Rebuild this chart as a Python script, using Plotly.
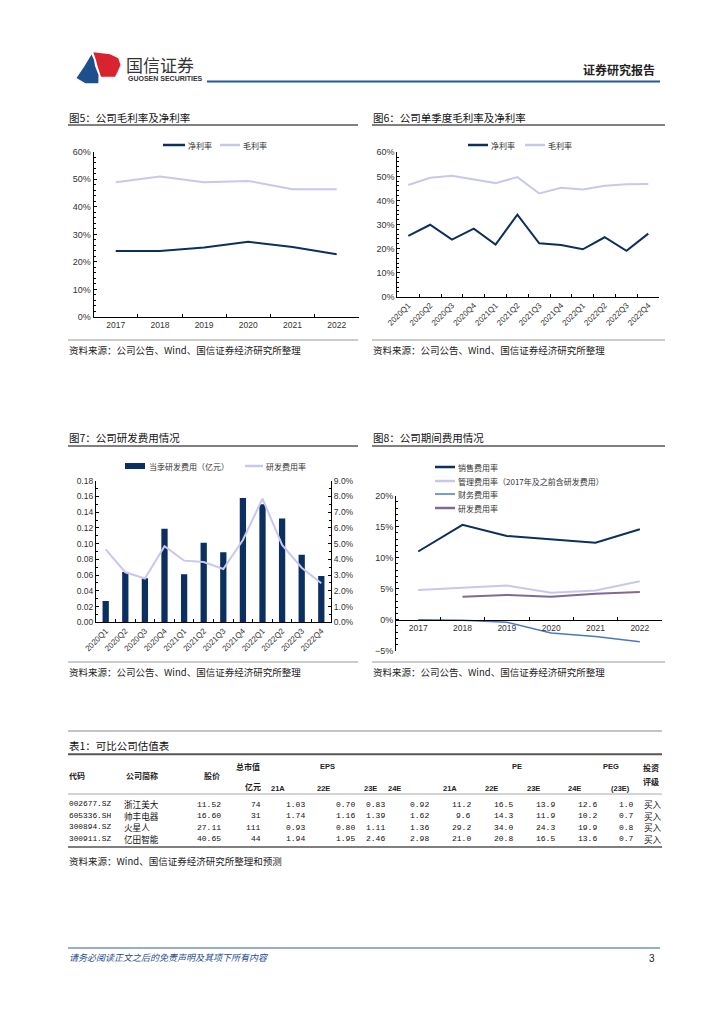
import plotly.graph_objects as go

W, H = 724, 1024
OFF = 8  # page body margin of the html document
def X(px): return (px - OFF) / W
def Y(py): return 1 - (py - OFF) / H

# ---------------- data ----------------
years = ['2017', '2018', '2019', '2020', '2021', '2022']
net_margin_y = [24.0, 24.0, 25.2, 27.3, 25.4, 22.8]
gross_margin_y = [48.9, 51.0, 48.9, 49.4, 46.4, 46.4]

quarters = ['2020Q1', '2020Q2', '2020Q3', '2020Q4', '2021Q1', '2021Q2',
            '2021Q3', '2021Q4', '2022Q1', '2022Q2', '2022Q3', '2022Q4']
net_margin_q = [25.3, 29.9, 23.7, 28.3, 21.7, 34.1, 22.2, 21.5, 19.7, 24.7, 19.1, 26.2]
gross_margin_q = [46.4, 49.4, 50.3, 48.8, 47.2, 49.7, 42.9, 45.3, 44.5, 46.1, 46.7, 46.8]

rd_expense_q = [0.027, 0.064, 0.056, 0.119, 0.061, 0.101, 0.089, 0.158, 0.150, 0.132, 0.086, 0.059]
rd_ratio_q = [4.64, 3.18, 2.78, 4.83, 3.92, 3.83, 3.39, 5.23, 7.86, 4.92, 3.47, 2.48]

selling_rate = [11.0, 15.3, 13.5, 12.9, 12.4, 14.6]
admin_rate = [4.8, 5.2, 5.5, 4.35, 4.7, 6.2]
finance_rate = [0.0, -0.1, -0.4, -2.15, -2.7, -3.55]
rd_rate_y = [None, 3.7, 4.0, 3.7, 4.2, 4.45]

names_c1 = ['净利率', '毛利率']
names_c2 = ['净利率', '毛利率']
names_c3 = ['当季研发费用（亿元）', '研发费用率']
names_c4 = ['销售费用率', '管理费用率（2017年及之前含研发费用）', '财务费用率', '研发费用率']

tbl_codes = ['002677.SZ', '605336.SH', '300894.SZ', '300911.SZ']
tbl_names = ['浙江美大', '帅丰电器', '火星人', '亿田智能']
tbl_price = ['11.52', '16.60', '27.11', '40.65']
tbl_mcap = ['74', '31', '111', '44']
tbl_eps21a = ['1.03', '1.74', '0.93', '1.94']
tbl_eps22e = ['0.70', '1.16', '0.80', '1.95']
tbl_eps23e = ['0.83', '1.39', '1.11', '2.46']
tbl_eps24e = ['0.92', '1.62', '1.36', '2.98']
tbl_pe21a = ['11.2', '9.6', '29.2', '21.0']
tbl_pe22e = ['16.5', '14.3', '34.0', '20.8']
tbl_pe23e = ['13.9', '11.9', '24.3', '16.5']
tbl_pe24e = ['12.6', '10.2', '19.9', '13.6']
tbl_peg = ['1.0', '0.7', '0.8', '0.7']
tbl_rating = ['买入', '买入', '买入', '买入']

# ---------------- style ----------------
NAVY = '#0b2f5e'
LAV = '#c8c8ee'
MBLUE = '#4a78c2'
PURP = '#7d6a96'
CJK = 'Noto Sans CJK SC'
NUM = 'Liberation Sans'
MONO = 'Liberation Mono'

fig = go.Figure()

# chart 1
fig.add_trace(go.Scatter(x=years, y=net_margin_y, mode='lines', name=names_c1[0],
                         line=dict(color=NAVY, width=2), xaxis='x', yaxis='y', showlegend=False))
fig.add_trace(go.Scatter(x=years, y=gross_margin_y, mode='lines', name=names_c1[1],
                         line=dict(color=LAV, width=2), xaxis='x', yaxis='y', showlegend=False))
# chart 2
fig.add_trace(go.Scatter(x=quarters, y=net_margin_q, mode='lines', name=names_c2[0],
                         line=dict(color=NAVY, width=2), xaxis='x2', yaxis='y2', showlegend=False))
fig.add_trace(go.Scatter(x=quarters, y=gross_margin_q, mode='lines', name=names_c2[1],
                         line=dict(color=LAV, width=2), xaxis='x2', yaxis='y2', showlegend=False))
# chart 3
fig.add_trace(go.Bar(x=quarters, y=rd_expense_q, name=names_c3[0], marker=dict(color=NAVY, line=dict(width=0)),
                     width=0.32, xaxis='x3', yaxis='y3', showlegend=False))
fig.add_trace(go.Scatter(x=quarters, y=rd_ratio_q, mode='lines', name=names_c3[1],
                         line=dict(color=LAV, width=2), xaxis='x3', yaxis='y5', showlegend=False))
# chart 4
fig.add_trace(go.Scatter(x=years, y=selling_rate, mode='lines', name=names_c4[0],
                         line=dict(color=NAVY, width=2), xaxis='x4', yaxis='y4', showlegend=False))
fig.add_trace(go.Scatter(x=years, y=admin_rate, mode='lines', name=names_c4[1],
                         line=dict(color=LAV, width=2), xaxis='x4', yaxis='y4', showlegend=False))
fig.add_trace(go.Scatter(x=years, y=finance_rate, mode='lines', name=names_c4[2],
                         line=dict(color=MBLUE, width=1.5), xaxis='x4', yaxis='y4', showlegend=False))
fig.add_trace(go.Scatter(x=years, y=rd_rate_y, mode='lines', name=names_c4[3],
                         line=dict(color=PURP, width=2), xaxis='x4', yaxis='y4', showlegend=False))

tickfont = dict(family=NUM, size=9, color='#333')
ax_common = dict(showgrid=False, zeroline=False, showline=True, linecolor='#000', linewidth=1,
                 tickfont=tickfont, fixedrange=True, automargin=False)

def xcat(domain, anchor, n, angle=0, size=8.5):
    d = dict(ax_common)
    d.update(domain=domain, anchor=anchor, type='category', tickson='boundaries',
             range=[-0.5, n - 0.5], tickfont=dict(family=NUM, size=size, color='#333'),
             ticks='inside', ticklen=3, tickcolor='#000', tickangle=angle)
    return d

def yval(domain, anchor, rng, dtick, minor, **kw):
    d = dict(ax_common)
    d.update(domain=domain, anchor=anchor, range=rng, dtick=dtick, ticks='inside', ticklen=3,
             tickcolor='#000', minor=dict(dtick=minor, ticks='inside', ticklen=2, tickcolor='#000'))
    d.update(kw)
    return d

layout = dict(
    width=W, height=H, margin=dict(l=0, r=0, t=0, b=0, pad=0, autoexpand=False),
    paper_bgcolor='white', plot_bgcolor='white', showlegend=False,
    xaxis=xcat([X(93.6), X(358.8)], 'y', len(years)),
    yaxis=yval([Y(317), Y(151.7)], 'x', [0, 60], 10, 2, ticksuffix='%'),
    xaxis2=xcat([X(397.4), X(659.2)], 'y2', len(quarters), -45, 8),
    yaxis2=yval([Y(296.7), Y(152.3)], 'x2', [0, 60], 10, 2, ticksuffix='%'),
    xaxis3=xcat([X(95.9), X(331.1)], 'y3', len(quarters), -45, 8),
    yaxis3=yval([Y(622.3), Y(480.7)], 'x3', [0, 0.18], 0.02, 0.01, tickformat='.2f',
                tickfont=dict(family=NUM, size=8.5, color='#333')),
    yaxis5=yval([Y(622.3), Y(480.7)], 'x3', [0, 9], 1, 0.5, tickformat='.1f', ticksuffix='%',
                overlaying='y3', side='right', tickfont=dict(family=NUM, size=8.5, color='#333')),
    xaxis4=xcat([X(396), X(662)], 'free', len(years)),
    yaxis4=yval([Y(650.7), Y(495.7)], 'x4', [-5, 20], 5, 1, ticksuffix='%'),
)
layout['xaxis4']['position'] = Y(620)
fig.update_layout(**layout)

shapes = []
ann = []

def hline(x0, x1, y, color='#000', w=1):
    shapes.append(dict(type='line', xref='paper', yref='paper', x0=X(x0), x1=X(x1), y0=Y(y), y1=Y(y),
                       line=dict(color=color, width=w)))

def text(x, y, s, size=9, color='#222', family=CJK, xanchor='left', bold=False, italic=False):
    if bold:
        s = '<b>' + s + '</b>'
    if italic:
        s = '<i>' + s + '</i>'
    ann.append(dict(xref='paper', yref='paper', x=X(x), y=Y(y), text=s, showarrow=False, borderpad=0,
                    xanchor=xanchor, yanchor='middle', font=dict(family=family, size=size, color=color)))

# ---------------- header ----------------
def path(pts):
    return 'M ' + ' L '.join(f'{X(a):.5f},{Y(b):.5f}' for a, b in pts) + ' Z'

blue_logo = [(76.5, 78), (84, 67), (91.5, 54.5), (94, 60), (95, 66), (97, 71), (98.5, 75), (98.3, 83.3), (85.5, 83.3)]
red_logo = [(93.3, 52.3), (110, 54.3), (118.3, 58.3), (120.5, 65), (117.5, 72), (115, 76.7), (101, 76.7),
            (99.5, 72), (97.5, 66), (96, 60)]
shapes.append(dict(type='path', xref='paper', yref='paper', path=path(blue_logo),
                   fillcolor='#1d4f8c', line=dict(width=0)))
shapes.append(dict(type='path', xref='paper', yref='paper', path=path(red_logo),
                   fillcolor='#d9232e', line=dict(width=0)))
text(125, 64, '国信证券', size=17, color='#333')
text(126.5, 78, 'GUOSEN SECURITIES', size=7, color='#333', family=NUM, bold=True)
hline(207, 660, 81.5, color='#235a97', w=2)
text(656, 69, '证券研究报告', size=12, color='#222', xanchor='right', bold=True)

# ---------------- chart titles ----------------
text(68, 117, '图5：公司毛利率及净利率', size=10.5, color='#111')
hline(68, 358, 125, '#000', 1)
text(372, 117, '图6：公司单季度毛利率及净利率', size=10.5, color='#111')
hline(372, 665, 125, '#000', 1)
hline(68, 358, 340, '#999', 1)
hline(372, 665, 340, '#999', 1)
src = '资料来源：公司公告、Wind、国信证券经济研究所整理'
text(68, 350, src, size=9.5)
text(372, 350, src, size=9.5)

text(68, 437, '图7：公司研发费用情况', size=10.5, color='#111')
hline(68, 358, 446, '#000', 1)
text(372, 437, '图8：公司期间费用情况', size=10.5, color='#111')
hline(372, 665, 446, '#000', 1)
hline(68, 358, 662, '#999', 1)
hline(372, 665, 662, '#999', 1)
text(68, 672, src, size=9.5)
text(372, 672, src, size=9.5)

# ---------------- legends (manual) ----------------
lg = dict(size=8, color='#333')
def leg_line(x0, x1, y, color, label, w=2.5):
    hline(x0, x1, y, color, w)
    text(x1 + 2, y, label, **lg)

leg_line(163, 185, 145, NAVY, names_c1[0])
leg_line(220, 240, 145, LAV, names_c1[1])
leg_line(468, 488, 145, NAVY, names_c2[0])
leg_line(525, 545, 145, LAV, names_c2[1])
shapes.append(dict(type='rect', xref='paper', yref='paper', x0=X(125), x1=X(145), y0=Y(469), y1=Y(463),
                   fillcolor=NAVY, line=dict(width=0)))
text(148, 466, names_c3[0], **lg)
leg_line(245, 263, 466, LAV, names_c3[1])
leg_line(435, 455, 467, NAVY, names_c4[0])
leg_line(435, 455, 481, LAV, names_c4[1])
leg_line(435, 455, 494, MBLUE, names_c4[2], w=1.5)
leg_line(435, 455, 508, PURP, names_c4[3])

# ---------------- table ----------------
hline(68, 662, 731, '#888', 1)
text(68, 745, '表1：可比公司估值表', size=10.5, color='#111')
hline(68, 662, 754.3, '#555', 2)
hs = dict(size=8, color='#222', bold=True)
text(68, 775.5, '代码', **hs)
text(125, 775.5, '公司简称', **hs)
text(211.5, 775.5, '股价', xanchor='center', **hs)
text(248, 766.7, '总市值', xanchor='center', **hs)
text(262, 786.5, '亿元', xanchor='right', **hs)
text(327, 766, 'EPS', xanchor='center', family=NUM, size=7.5, color='#222', bold=True)
text(517, 766, 'PE', xanchor='center', family=NUM, size=7.5, color='#222', bold=True)
text(611, 766, 'PEG', xanchor='center', family=NUM, size=7.5, color='#222', bold=True)
text(651, 767, '投资', xanchor='center', **hs)
text(651, 781, '评级', xanchor='center', **hs)
sub_heads = [(278, '21A'), (323, '22E'), (370, '23E'), (394, '24E'),
             (450, '21A'), (492, '22E'), (533, '23E'), (574, '24E')]
for xc, s in sub_heads:
    text(xc, 788, s, xanchor='center', family=NUM, size=7.5, color='#222', bold=True)
text(620, 788, '(23E)', xanchor='center', family=NUM, size=7.5, color='#222', bold=True)
hline(68, 662, 794, '#aaa', 1)

row_y = [804, 815.6, 827.1, 838.6]
num_cols = [(222, tbl_price), (261.5, tbl_mcap), (306, tbl_eps21a), (356, tbl_eps22e), (386, tbl_eps23e),
            (430, tbl_eps24e), (472, tbl_pe21a), (514, tbl_pe22e), (556, tbl_pe23e), (598, tbl_pe24e),
            (635, tbl_peg)]
cs = dict(size=8, color='#111', family=MONO)
for i, ry in enumerate(row_y):
    text(68, ry, tbl_codes[i], size=7.8, color='#111', family=MONO)
    text(123, ry, tbl_names[i], size=8.6, color='#111')
    for xr, col in num_cols:
        text(xr, ry, col[i], xanchor='right', **cs)
    text(643, ry, tbl_rating[i], size=8.6, color='#111')
hline(68, 662, 847, '#555', 1.5)
text(68, 861, '资料来源：Wind、国信证券经济研究所整理和预测', size=9.5)

# ---------------- footer ----------------
hline(68, 660, 948, '#2e5f99', 1)
text(68, 957, '请务必阅读正文之后的免责声明及其项下所有内容', size=9, color='#1f4e8c', italic=True)
text(656, 958, '3', size=10, color='#222', family=NUM, xanchor='right')

fig.update_layout(shapes=shapes, annotations=ann)
fig.write_html('out.html')
